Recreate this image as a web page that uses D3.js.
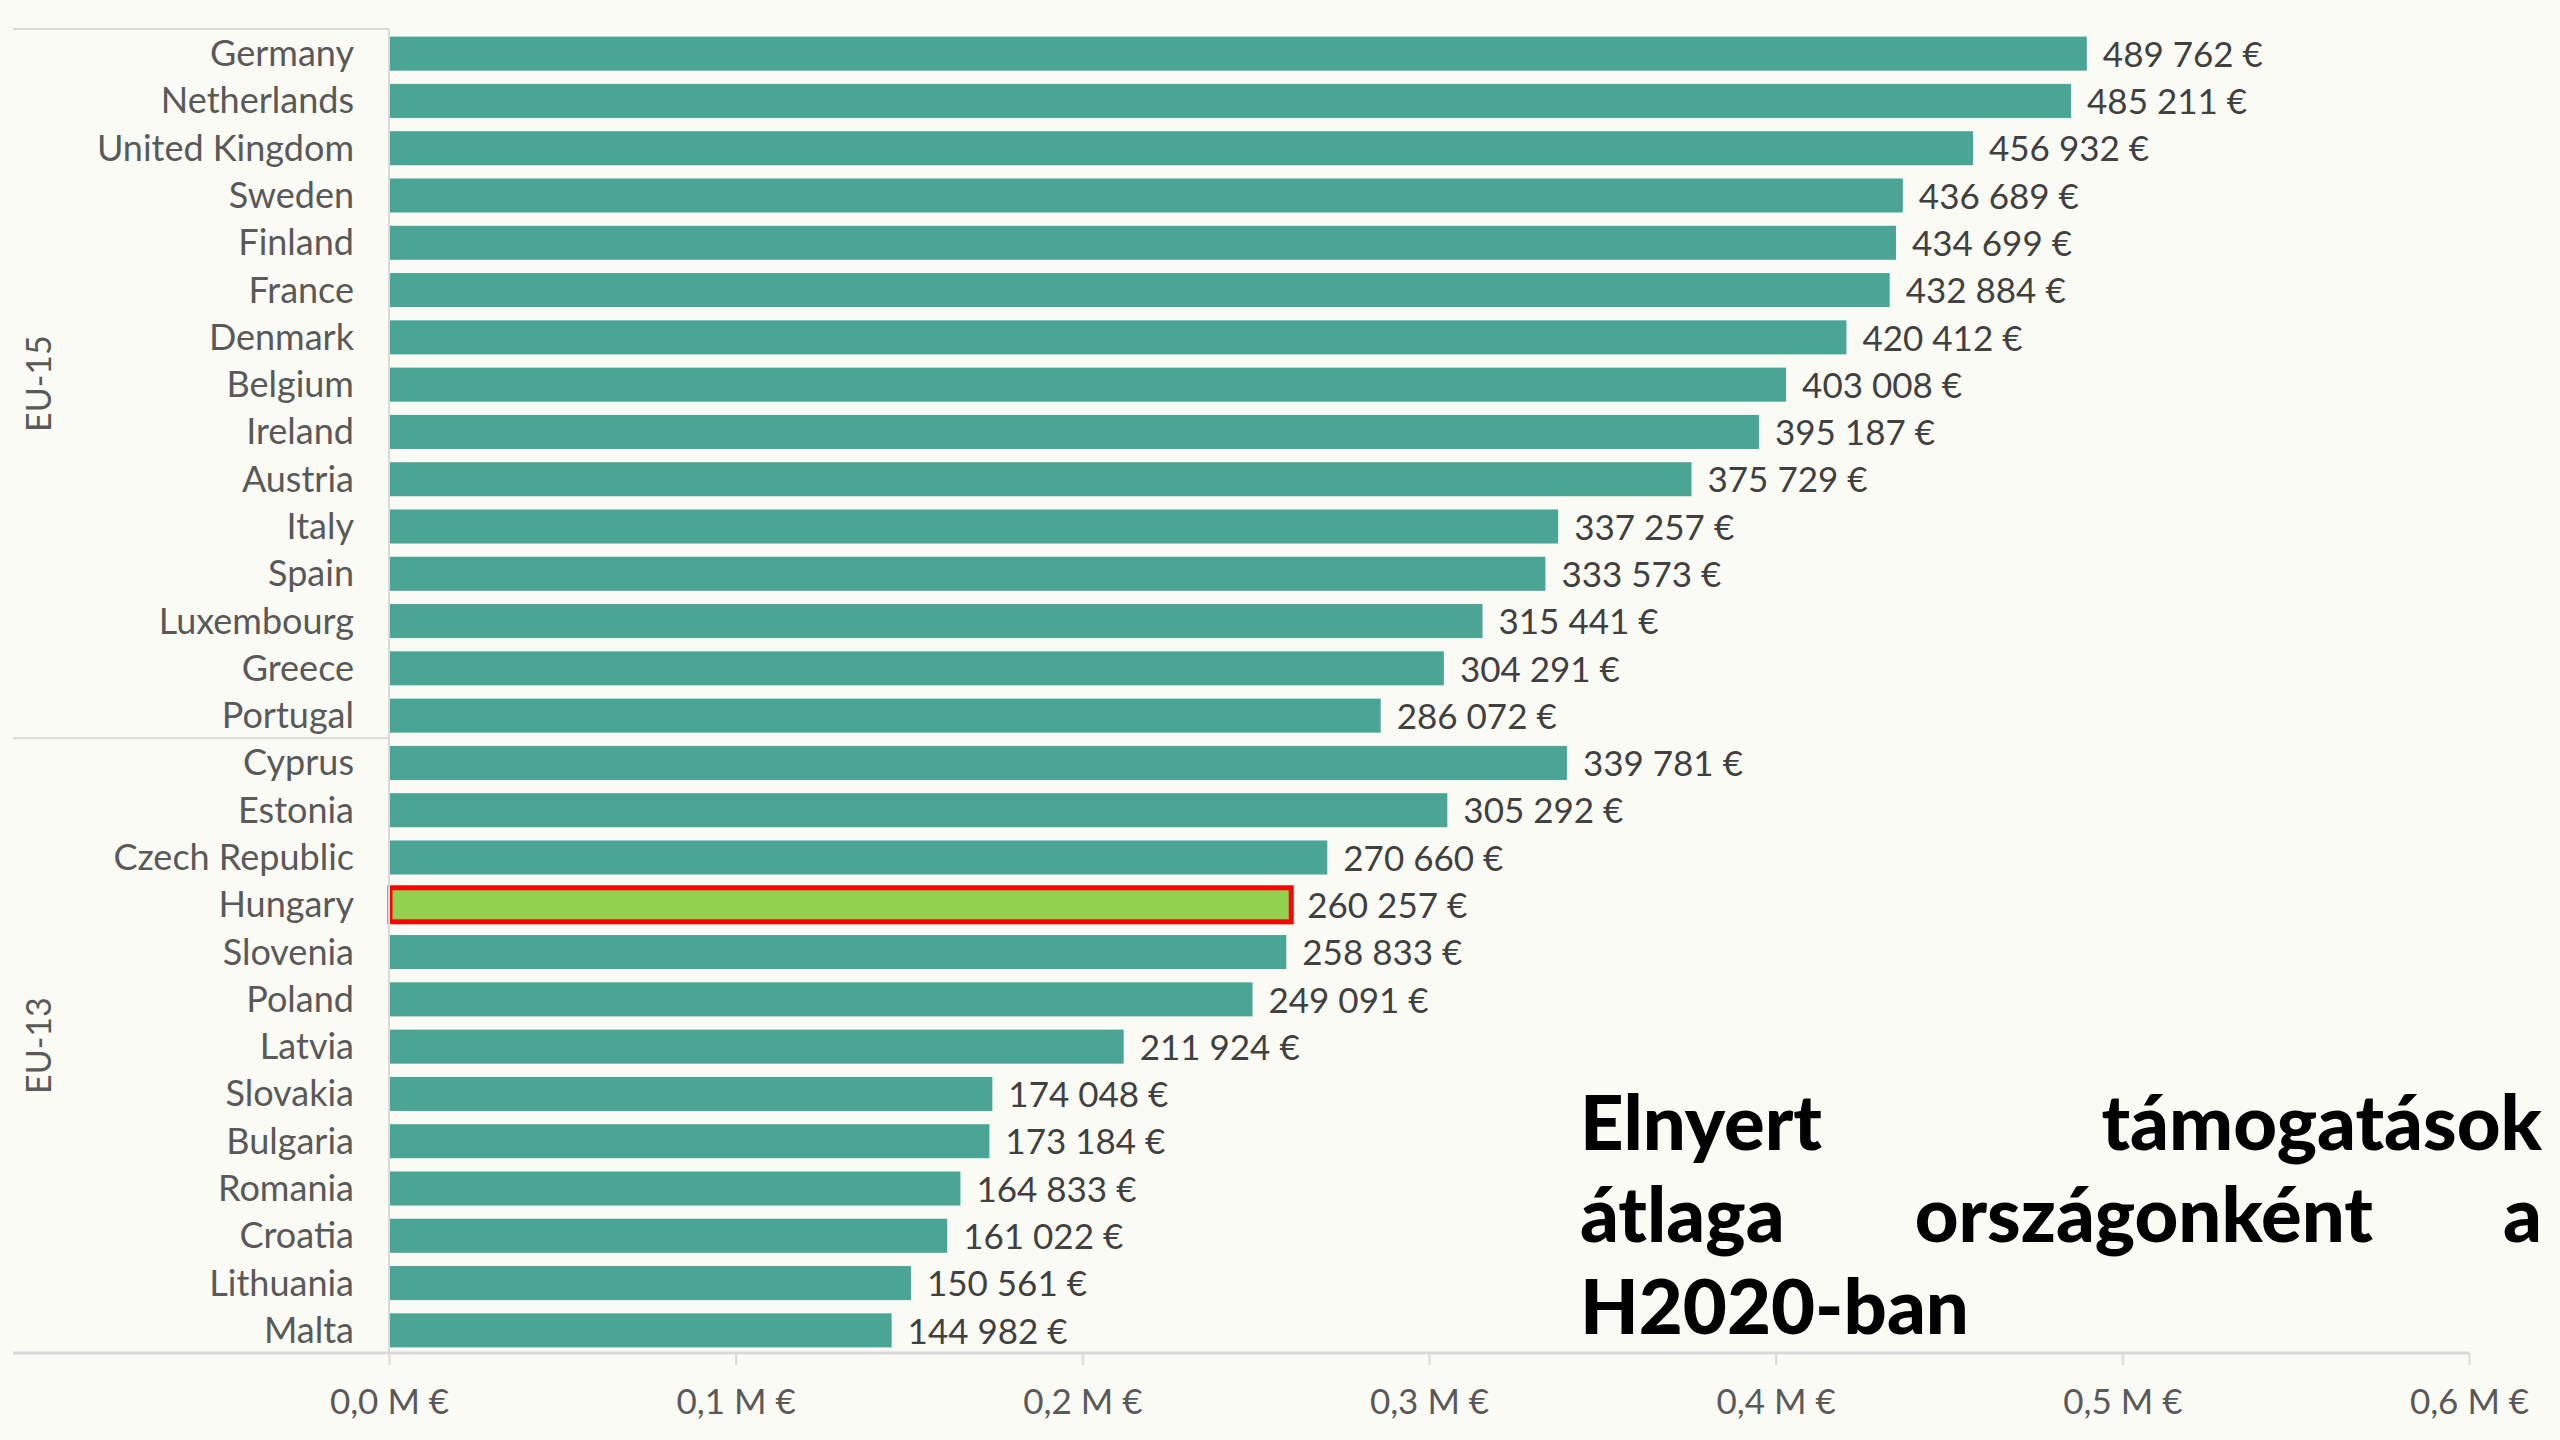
<!DOCTYPE html>
<html>
<head>
<meta charset="utf-8">
<script src="https://cdn.jsdelivr.net/npm/d3@7"></script>
<style>
	html, body { margin: 0; padding: 0; background: #fbfbf6; }
	svg { display: block; }
	text { font-family: Lato, "Open Sans", sans-serif; }
</style>
</head>
<body>
<svg id="chart" width="2560" height="1440"></svg>
<script>
// data
const countries = ["Germany","Netherlands","United Kingdom","Sweden","Finland","France","Denmark",
	"Belgium","Ireland","Austria","Italy","Spain","Luxembourg","Greece","Portugal",
	"Cyprus","Estonia","Czech Republic","Hungary","Slovenia","Poland","Latvia","Slovakia",
	"Bulgaria","Romania","Croatia","Lithuania","Malta"]
const values = [489762,485211,456932,436689,434699,432884,420412,
	403008,395187,375729,337257,333573,315441,304291,286072,
	339781,305292,270660,260257,258833,249091,211924,174048,
	173184,164833,161022,150561,144982]
const groups = ["EU-15","EU-13"]
const groupSizes = [15,13]
const highlight = "Hungary"
const xTicks = [0,100000,200000,300000,400000,500000,600000]
const titleLines = [["Elnyert","támogatások"],["átlaga","országonként","a"],["H2020-ban"]]

const svg = d3.select("#chart")
const W = 2560, H = 1440
const plotLeft = 389, plotRight = 2469, plotTop = 29, plotBottom = 1353
const lineColor = "#d9d9d9"

const x = d3.scaleLinear().domain([0,600000]).range([plotLeft,plotRight])
const y = d3.scaleBand().domain(countries).range([plotTop,plotBottom]).paddingInner(0.28).paddingOuter(0.14)

svg.append("rect").attr("width",W).attr("height",H).attr("fill","#fbfbf6")

// bars
svg.append("g").selectAll("rect")
	.data(countries)
	.join("rect")
	.attr("x", x(0) + 1)
	.attr("y", d => y(d) + 1)
	.attr("width", (d,i) => x(values[i]) - x(0) - 1)
	.attr("height", y.bandwidth())
	.attr("fill", d => d == highlight ? "#92d050" : "#4aa595")
	.attr("stroke", d => d == highlight ? "#ff0000" : "none")
	.attr("stroke-width", 5)

// value labels
const fmtVal = v => d3.format(",")(v).replace(/,/g, " ") + " €"
svg.append("g").selectAll("text")
	.data(countries)
	.join("text")
	.attr("x", (d,i) => x(values[i]) + 16)
	.attr("y", d => y(d) + y.bandwidth()/2 + 2)
	.attr("dy", "0.35em")
	.style("font-size", "35px")
	.style("fill", "#404040")
	.text((d,i) => fmtVal(values[i]))

// category axis
const yAxis = d3.axisLeft(y).tickSize(0).tickPadding(35)
const yAxisGroup = svg.append("g")
	.attr("transform", "translate(" + plotLeft + ",2)")
	.call(yAxis)
yAxisGroup.select(".domain").remove()
yAxisGroup.selectAll("text")
	.style("font-size", "36px")
	.style("fill", "#595959")
	.style("font-family", "Lato, sans-serif")
svg.append("line")
	.attr("x1", plotLeft).attr("x2", plotLeft)
	.attr("y1", plotTop).attr("y2", plotBottom)
	.attr("stroke", lineColor).attr("stroke-width", 2)

// group frame lines
const sepY = [plotTop, y.step() * groupSizes[0] + plotTop, plotBottom]
svg.append("g").selectAll("line")
	.data(sepY.slice(0,2))
	.join("line")
	.attr("x1", 13).attr("x2", plotLeft)
	.attr("y1", d => d).attr("y2", d => d)
	.attr("stroke", lineColor).attr("stroke-width", 2)

// group labels
svg.append("g").selectAll("text")
	.data(groups)
	.join("text")
	.attr("transform", (d,i) => "translate(39," + (sepY[i] + sepY[i+1])/2 + ") rotate(-90)")
	.attr("text-anchor", "middle")
	.attr("dy", "0.35em")
	.style("font-size", "34px")
	.style("fill", "#595959")
	.text(d => d)

// value axis
const xAxis = d3.axisBottom(x)
	.tickValues(xTicks)
	.tickSize(12)
	.tickPadding(24)
	.tickFormat(v => d3.format(".1f")(v/1e6).replace(".", ",") + " M €")
const xAxisGroup = svg.append("g")
	.attr("transform", "translate(0," + plotBottom + ")")
	.call(xAxis)
xAxisGroup.select(".domain").remove()
xAxisGroup.selectAll("line").attr("stroke", lineColor).attr("stroke-width", 2)
xAxisGroup.selectAll("text")
	.style("font-size", "35px")
	.style("fill", "#595959")
	.style("font-family", "Lato, sans-serif")
svg.append("line")
	.attr("x1", 13).attr("x2", plotRight)
	.attr("y1", plotBottom).attr("y2", plotBottom)
	.attr("stroke", lineColor).attr("stroke-width", 3)

// title, one text element, words justified by hand
const titleLeft = 1580, titleRight = 2542
const titleBase = [1150, 1242, 1334]
const title = svg.append("text")
	.style("font-size", "76px")
	.style("font-weight", 900)
	.style("fill", "#000")
titleLines.forEach((words, li) => {
	const spans = words.map(w => title.append("tspan")
		.attr("y", titleBase[li])
		.attr("x", titleLeft)
		.text(w))
	const widths = spans.map(s => s.node().getComputedTextLength())
	const total = d3.sum(widths)
	const last = li == titleLines.length - 1
	const gap = (words.length > 1 && !last) ? (titleRight - titleLeft - total) / (words.length - 1) : 20
	let cx = titleLeft
	spans.forEach((s, i) => {
		s.attr("x", cx)
		cx += widths[i] + gap
	})
})
</script>
</body>
</html>
